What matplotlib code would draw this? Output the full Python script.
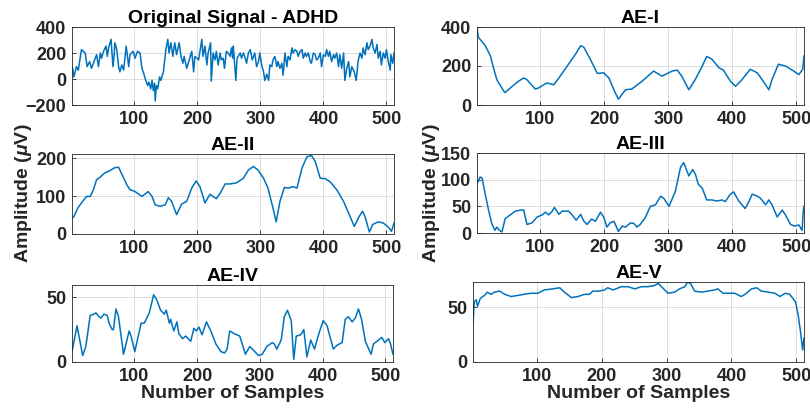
import matplotlib
matplotlib.use("Agg")
import matplotlib.pyplot as plt

plt.rcParams['font.family'] = ['Liberation Sans', 'DejaVu Sans']
plt.rcParams['mathtext.fontset'] = 'custom'
plt.rcParams['mathtext.it'] = 'Liberation Sans:italic:bold'
plt.rcParams['mathtext.rm'] = 'Liberation Sans:bold'

# ---------------- data ----------------
orig_x = [2, 4, 8, 11, 16, 22, 25, 29, 32, 37, 40, 43, 46, 48, 51, 55, 57, 59, 63, 66, 68, 69, 72, 75, 77, 80, 83, 87,
          91, 93, 98, 101, 105, 109, 112, 114, 118, 121, 123, 126, 128, 130, 132, 133, 135, 137, 140, 142, 146, 150,
          153, 155, 158, 161, 164, 167, 171, 174, 177, 179, 183, 187, 191, 194, 196, 202, 207, 209, 212, 215, 217,
          221, 222, 225, 228, 230, 233, 236, 238, 241, 243, 246, 249, 252, 254, 256, 257, 261, 263, 268, 270, 273,
          275, 278, 281, 284, 287, 291, 294, 297, 299, 302, 305, 307, 310, 313, 315, 318, 320, 323, 326, 328, 331,
          334, 336, 339, 342, 344, 347, 350, 352, 355, 358, 360, 363, 366, 368, 371, 373, 376, 379, 381, 384, 387,
          389, 392, 395, 397, 400, 403, 405, 408, 410, 413, 416, 418, 421, 424, 426, 429, 432, 434, 437, 440, 442,
          445, 449, 452, 455, 458, 461, 463, 466, 469, 471, 474, 477, 479, 482, 485, 487, 490, 492, 495, 498, 500,
          503, 506, 507, 510, 512]
orig_y = [82, 16, 95, 68, 226, 200, 95, 134, 82, 147, 187, 95, 200, 160, 213, 253, 174, 239, 305, 95, 187, 279, 226, 95,
          55, 108, 68, 253, 95, 187, 213, 160, 213, 200, 82, 55, -11, -50, -24, -76, -11, -89, -32, -168, -50, -76, 16,
          -11, 55, 226, 305, 200, 279, 174, 279, 187, 279, 174, 121, 174, 82, 147, 213, 55, 174, 147, 305, 174, 253,
          108, 200, 279, -16, 200, 147, 213, 108, 200, 147, 160, 82, 213, 200, 174, 239, 160, 253, -11, 160, 200, 160,
          200, 174, 121, 200, 226, 147, 200, 95, 134, 200, 108, 55, -11, 37, -11, 108, 95, 147, 174, 95, 134, 82, 121,
          29, 200, 95, 174, 147, 239, 200, 226, 213, 174, 213, 226, 160, 200, 174, 200, 134, 121, 200, 187, 147, 160,
          200, 95, 187, 174, 226, 174, 213, 134, 187, 160, 200, 95, 187, 82, 200, -11, 82, 134, 16, 95, 55, -11, 134,
          200, 160, 239, 187, 279, 226, 253, 305, 239, 200, 266, 160, 213, 108, 200, 160, 226, 134, 68, 187, 121, 200]

ae1_x = [1, 3, 14, 22, 26, 32, 43, 45, 56, 66, 74, 79, 92, 97, 110, 121, 129, 142, 155, 163, 168, 178, 189, 199,
         207, 216, 222, 233, 243, 259, 277, 290, 306, 314, 321, 332, 342, 353, 360, 368, 379, 386, 397, 405, 413,
         428, 439, 452, 457, 462, 472, 483, 496, 504, 510, 512]
ae1_y = [395, 348, 304, 252, 200, 130, 70, 64, 96, 122, 139, 130, 82, 87, 113, 104, 139, 200, 261, 304, 296, 235,
         162, 165, 139, 70, 30, 78, 82, 122, 174, 148, 174, 179, 148, 78, 130, 200, 249, 235, 191, 179, 122, 96, 122,
         183, 165, 104, 78, 130, 209, 200, 174, 156, 183, 252]

ae2_x = [1, 4, 10, 16, 24, 30, 35, 40, 45, 53, 61, 69, 75, 80, 88, 93, 101, 112, 122, 128, 133, 141, 149, 154, 159,
         167, 175, 183, 191, 198, 204, 212, 220, 230, 236, 244, 252, 262, 273, 281, 289, 296, 305, 312, 320, 325,
         331, 338, 344, 352, 358, 366, 374, 381, 387, 395, 403, 411, 421, 432, 440, 449, 456, 462, 466, 473, 478,
         487, 495, 503, 508, 512]
ae2_y = [42, 46, 68, 82, 99, 99, 117, 143, 149, 161, 167, 175, 176, 158, 130, 117, 112, 99, 112, 99, 77, 73, 77, 96,
         86, 51, 79, 86, 121, 140, 125, 82, 105, 93, 107, 132, 132, 135, 147, 169, 178, 169, 147, 121, 68, 32, 86,
         123, 121, 125, 121, 174, 204, 207, 191, 147, 146, 137, 117, 86, 55, 20, 44, 60, 46, 5, 25, 32, 29, 18, 7, 29]

ae3_x = [1, 6, 9, 14, 19, 24, 29, 32, 36, 40, 45, 53, 61, 69, 74, 79, 87, 95, 103, 108, 113, 118, 122, 129, 134,
         144, 149, 156, 163, 168, 173, 180, 186, 194, 199, 204, 209, 215, 222, 228, 233, 241, 246, 251, 256, 264,
         272, 280, 288, 293, 301, 311, 319, 324, 332, 338, 342, 347, 353, 360, 368, 376, 384, 389, 397, 402, 410,
         420, 426, 431, 439, 444, 452, 457, 462, 470, 478, 483, 491, 497, 504, 509, 511, 512]
ae3_y = [92, 105, 103, 72, 43, 18, 5, 11, 5, 2, 27, 34, 41, 43, 43, 16, 19, 30, 34, 39, 34, 40, 48, 35, 41, 41, 35,
         24, 35, 22, 16, 26, 22, 39, 30, 11, 19, 22, 3, 13, 11, 19, 18, 11, 16, 29, 50, 53, 69, 65, 50, 78, 123, 132,
         107, 119, 111, 91, 84, 62, 62, 60, 62, 59, 73, 77, 60, 46, 59, 73, 69, 65, 53, 62, 53, 30, 43, 34, 16, 13,
         15, 5, 43, 50]

ae4_x = [1, 9, 18, 23, 30, 36, 39, 44, 47, 52, 57, 60, 65, 67, 71, 75, 83, 92, 95, 101, 111, 116, 124, 131, 136, 142,
         148, 151, 156, 158, 163, 168, 171, 177, 182, 190, 195, 199, 203, 208, 215, 222, 230, 238, 244, 248, 252,
         259, 268, 272, 277, 284, 290, 298, 304, 311, 320, 323, 327, 334, 339, 344, 350, 354, 358, 365, 370, 375,
         381, 387, 394, 401, 407, 417, 423, 431, 436, 441, 447, 452, 457, 462, 468, 477, 481, 489, 494, 499, 505,
         508, 512]
ae4_y = [8, 28, 5, 12, 36, 37, 38, 35, 34, 37, 36, 30, 25, 25, 41, 35, 6, 24, 20, 8, 30, 30, 38, 52, 48, 40, 37, 40,
         30, 33, 24, 31, 22, 18, 20, 16, 26, 24, 27, 21, 31, 24, 14, 8, 7, 10, 24, 22, 20, 14, 6, 12, 9, 5, 6, 12, 15,
         14, 10, 17, 35, 40, 32, 2, 20, 21, 25, 4, 17, 10, 22, 32, 28, 10, 13, 15, 33, 35, 31, 34, 41, 33, 16, 6, 14,
         17, 19, 15, 18, 14, 6]

ae5_x = [1, 3, 6, 8, 12, 16, 19, 23, 29, 34, 42, 50, 60, 70, 80, 91, 101, 111, 124, 135, 142, 153, 163, 173, 181,
         186, 196, 204, 209, 217, 230, 240, 251, 261, 271, 281, 287, 292, 302, 312, 320, 328, 332, 337, 343, 354,
         364, 374, 379, 387, 397, 405, 415, 421, 431, 439, 446, 457, 467, 475, 483, 490, 495, 499, 503, 507, 510, 512]
ae5_y = [35, 55, 57, 51, 58, 60, 61, 64, 62, 64, 65, 62, 60, 61, 62, 63, 63, 66, 67, 68, 64, 59, 60, 62, 62, 65, 65,
         66, 68, 66, 69, 69, 67, 69, 69, 70, 72, 69, 63, 64, 67, 69, 73, 72, 65, 64, 65, 66, 67, 63, 63, 63, 60, 62,
         67, 68, 65, 64, 63, 60, 63, 62, 58, 55, 43, 26, 11, 22]

x_ticks = [100, 200, 300, 400, 500]

panels = [
    dict(title='Original Signal - ADHD', x=orig_x, y=orig_y, ylim=(-200, 400), yticks=[-200, 0, 200, 400]),
    dict(title='AE-I', x=ae1_x, y=ae1_y, ylim=(0, 400), yticks=[0, 200, 400]),
    dict(title='AE-II', x=ae2_x, y=ae2_y, ylim=(0, 211), yticks=[0, 100, 200]),
    dict(title='AE-III', x=ae3_x, y=ae3_y, ylim=(0, 150), yticks=[0, 50, 100, 150]),
    dict(title='AE-IV', x=ae4_x, y=ae4_y, ylim=(0, 59.5), yticks=[0, 50]),
    dict(title='AE-V', x=ae5_x, y=ae5_y, ylim=(0, 73.3), yticks=[0, 50]),
]

# axes rectangles in pixels: left, top, right, bottom
W, H = 810, 412
rects_px = [(72, 27, 394, 105), (477, 27, 804, 105),
            (72, 154, 394, 234), (477, 153, 804, 233),
            (72, 285, 393, 362), (473, 282, 804, 362)]

fig = plt.figure(figsize=(8.1, 4.12), dpi=100)
line_color = '#0072BD'
tick_color = '#262626'

for i, (p, r) in enumerate(zip(panels, rects_px)):
    l, t, rr, b = r
    ax = fig.add_axes([l / W, 1 - b / H, (rr - l) / W, (b - t) / H])
    ax.plot(p['x'], p['y'], color=line_color, lw=1.1)
    ax.set_xlim(1, 512)
    ax.set_ylim(*p['ylim'])
    ax.set_xticks(x_ticks)
    ax.set_yticks(p['yticks'])
    ax.grid(True, color='#dcdcdc', lw=0.7)
    ax.set_axisbelow(True)
    ax.tick_params(direction='in', length=3, width=0.6, color=tick_color,
                   labelsize=13, labelcolor=tick_color, pad=4)
    for lab in ax.get_xticklabels() + ax.get_yticklabels():
        lab.set_fontweight('bold')
    for s in ax.spines.values():
        s.set_color(tick_color)
        s.set_linewidth(0.6)
    ax.set_title(p['title'], fontsize=14, fontweight='bold', pad=3)
    if i >= 4:
        ax.set_xlabel('Number of Samples', fontsize=14, fontweight='bold',
                      color=tick_color, labelpad=0)

for xc in (23, 432):
    fig.text(xc / W, 1 - 193 / H, r'Amplitude ($\mu$V)', rotation=90, ha='center', va='center',
             fontsize=14, fontweight='bold', color=tick_color)

fig.savefig('out.png', dpi=100)
